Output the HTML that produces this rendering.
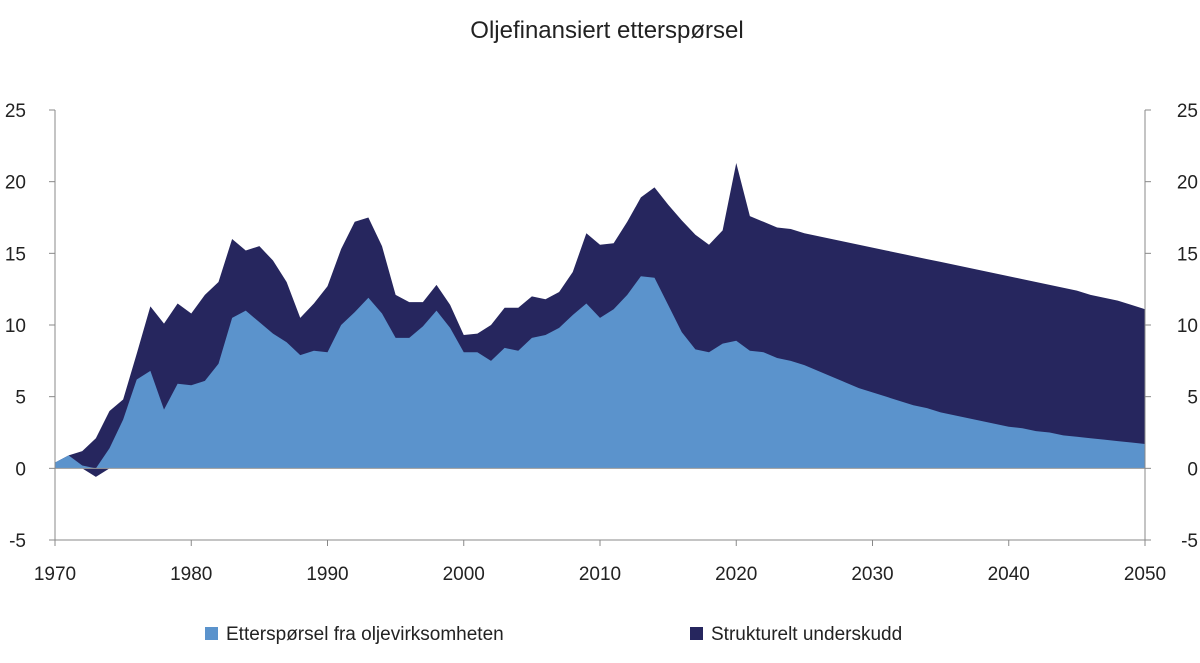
<!DOCTYPE html>
<html><head><meta charset="utf-8"><style>
body{margin:0;background:#fff;font-family:"Liberation Sans","DejaVu Sans",sans-serif;}
svg{display:block}
text{fill:#222}
</style></head><body>
<svg id="c" width="1200" height="663">
<text x="607" y="38" font-size="24" text-anchor="middle">Oljefinansiert etterspørsel</text>
<g id="plot"></g>
<g>
<rect x="205" y="627" width="13" height="13" fill="#5b93cc"/>
<text x="226" y="640" font-size="19">Etterspørsel fra oljevirksomheten</text>
<rect x="690" y="627" width="13" height="13" fill="#26265e"/>
<text x="711" y="640" font-size="19">Strukturelt underskudd</text>
</g>
</svg>
<script>
const years=[];for(let y=1970;y<=2050;y++)years.push(y);
const total=[0.4,0.9,1.2,2.1,4.0,4.8,8.0,11.3,10.1,11.5,10.8,12.1,13.0,16.0,15.2,15.5,14.5,13.0,10.5,11.5,12.7,15.3,17.2,17.5,15.5,12.1,11.6,11.6,12.8,11.4,9.3,9.4,10.0,11.2,11.2,12.0,11.8,12.3,13.7,16.4,15.6,15.7,17.2,18.9,19.6,18.4,17.3,16.3,15.6,16.6,21.3,17.6,17.2,16.8,16.7,16.4,16.2,16.0,15.8,15.6,15.4,15.2,15.0,14.8,14.6,14.4,14.2,14.0,13.8,13.6,13.4,13.2,13.0,12.8,12.6,12.4,12.1,11.9,11.7,11.4,11.1];
const oil=[0.4,0.9,0.2,-0.6,1.4,3.4,6.2,6.8,4.1,5.9,5.8,6.1,7.3,10.5,11.0,10.2,9.4,8.8,7.9,8.2,8.1,10.0,10.9,11.9,10.8,9.1,9.1,9.9,11.0,9.8,8.1,8.1,7.5,8.4,8.2,9.1,9.3,9.8,10.7,11.5,10.5,11.1,12.1,13.4,13.3,11.4,9.5,8.3,8.1,8.7,8.9,8.2,8.1,7.7,7.5,7.2,6.8,6.4,6.0,5.6,5.3,5.0,4.7,4.4,4.2,3.9,3.7,3.5,3.3,3.1,2.9,2.8,2.6,2.5,2.3,2.2,2.1,2.0,1.9,1.8,1.7];
const yTicks=[-5,0,5,10,15,20,25];
const xTicks=[1970,1980,1990,2000,2010,2020,2030,2040,2050];
const NS='http://www.w3.org/2000/svg';
const X0=55,X1=1145,Y0=540,Y1=110;
const xs=v=>X0+(v-1970)/80*(X1-X0);
const ys=v=>Y0-(v+5)/30*(Y0-Y1);
const g=document.getElementById('plot');
function mk(t,a){const e=document.createElementNS(NS,t);for(const k in a)e.setAttribute(k,a[k]);g.appendChild(e);return e;}
const topPts=years.map((y,i)=>xs(y)+','+ys(total[i]));
const botPts=years.map((y,i)=>xs(y)+','+ys(Math.min(oil[i],0))).reverse();
const d=mk('polygon',{points:topPts.concat(botPts).join(' '),fill:'#26265e'});


const ot=years.map((y,i)=>xs(y)+','+ys(Math.max(oil[i],0)));
const ob=[xs(2050)+','+ys(0),xs(1970)+','+ys(0)];
const l=mk('polygon',{points:ot.concat(ob).join(' '),fill:'#5b93cc'});


const z=mk('line',{x1:X0,x2:X1,y1:ys(0),y2:ys(0),stroke:'#999','stroke-width':1});


const a1=mk('line',{x1:X0,x2:X0,y1:Y1,y2:Y0,stroke:'#888'});


const a2=mk('line',{x1:X1,x2:X1,y1:Y1,y2:Y0,stroke:'#888'});


const a3=mk('line',{x1:X0,x2:X1,y1:Y0,y2:Y0,stroke:'#888'});


yTicks.forEach(v=>{
 mk('line',{x1:X0-6,x2:X0,y1:ys(v),y2:ys(v),stroke:'#888'});
 mk('line',{x1:X1,x2:X1+6,y1:ys(v),y2:ys(v),stroke:'#888'});
 const t=mk('text',{x:26,y:ys(v)+7,'font-size':19,'text-anchor':'end'});t.textContent=v;
 
 
 const t2=mk('text',{x:1198,y:ys(v)+7,'font-size':19,'text-anchor':'end'});t2.textContent=v;
 
 
});
xTicks.forEach(v=>{
 mk('line',{x1:xs(v),x2:xs(v),y1:Y0,y2:Y0+6,stroke:'#888'});
 const t=mk('text',{x:xs(v),y:580,'font-size':19,'text-anchor':'middle'});t.textContent=v;
 
 
});
</script>
</body></html>
